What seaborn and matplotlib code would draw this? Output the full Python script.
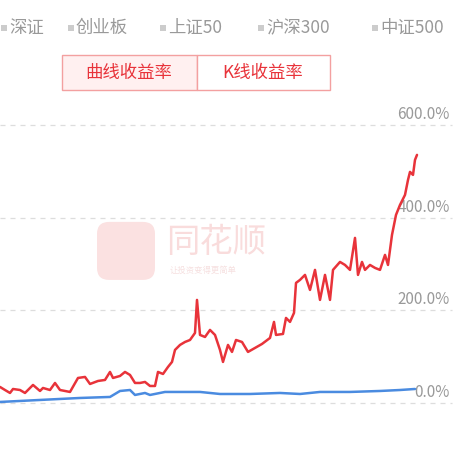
import matplotlib
matplotlib.use("Agg")
import matplotlib.pyplot as plt
import seaborn as sns
import pandas as pd
from matplotlib.patches import Rectangle, FancyBboxPatch

sns.set_style("white")
plt.rcParams['font.family'] = ['Noto Sans CJK SC', 'DejaVu Sans']

legend_names = ['深证', '创业板', '上证50', '沪深300', '中证500']
tab_names = ['曲线收益率', 'K线收益率']
y_ticks = [0, 200, 400, 600]

red_days = [0, 5, 10, 13, 20, 25, 33, 40, 43, 50, 55, 60, 65, 70, 78, 85, 90, 98, 105, 110,
            113, 120, 125, 130, 135, 140, 145, 150, 155, 158, 163, 168, 172, 175, 180, 185, 190,
            195, 197, 200, 205, 210, 215, 220, 223, 228, 232, 236, 242, 248, 255, 262, 270, 274,
            276, 283, 286, 290, 294, 296, 300, 305, 310, 315, 320, 325, 330, 333, 340, 345, 350,
            355, 358, 362, 365, 370, 375, 380, 385, 388, 392, 396, 400, 405, 408, 410, 413, 415, 417]
red_ret = [34.6, 28, 21.6, 30.2, 28, 21.6, 38.9, 25.9, 32.4, 28, 43.2, 28, 25.9, 23.8, 54, 56.2,
           41, 47.5, 49.7, 67, 54, 58.3, 67, 60.5, 43.2, 43.2, 45.4, 36.7, 36.7, 67, 62.6, 77.8,
           88.6, 114.5, 125.3, 131.7, 136, 151.2, 222.5, 146.9, 142.5, 157.7, 146.9, 114.5, 88.6,
           125.3, 110.2, 136, 131.7, 110.2, 118.8, 127.4, 140.4, 175, 146.9, 149, 183.6, 175,
           194.4, 259.2, 265.7, 276.5, 244, 287.3, 222.5, 276.5, 222.5, 287.3, 304.5, 298, 287.3,
           356.4, 276.5, 304.5, 287.3, 298, 291.6, 287.3, 319.7, 298, 362.9, 406, 427.6, 449.2,
           481.6, 498.9, 492.4, 524.8, 535.6]
blue_days = [0, 40, 80, 110, 120, 130, 135, 145, 150, 165, 200, 220, 250, 280, 300, 320, 350, 380, 400, 415]
blue_ret = [2.2, 6.5, 10.8, 13, 25.9, 28, 17.3, 21.6, 17.3, 23.8, 23.8, 19.4, 19.4, 21.6, 19.4,
            23.8, 23.8, 25.9, 28, 30.2]

fig = plt.figure(figsize=(4.63, 4.63), dpi=100)
ax = fig.add_axes([0, 0, 1, 1])
ax.set_xlim(0, 463)
ax.set_ylim(-129.6, 870)
ax.axis('off')

px = 1 / 0.463  # percent per pixel
for t in y_ticks:
    ax.plot([0, 452], [t, t], color='#dddddd', lw=0.9, ls=(0, (4, 4)), zorder=1)
    ax.text(450, t + 2 * px, f'{t:.1f}%', ha='right', va='bottom', fontsize=11, color='#999999', zorder=2)

# faint watermark
ax.add_patch(FancyBboxPatch((97, (403 - 280) * px), 58, 58 * px, boxstyle='round,pad=0,rounding_size=12',
                            fc='#fbe1e1', ec='none', zorder=0, mutation_aspect=px))
ax.text(166, (403 - 243) * px, '同花顺', fontsize=24, color='#f9dcdc', ha='left', va='center', style='italic', zorder=0)
ax.text(170, (403 - 270) * px, '让投资变得更简单', fontsize=6, color='#f6e0e0', ha='left', va='center', zorder=0)

sns.lineplot(data=pd.DataFrame({'d': blue_days, 'r': blue_ret}), x='d', y='r', ax=ax,
             color='#4a8be0', lw=1.8, zorder=3)
sns.lineplot(data=pd.DataFrame({'d': red_days, 'r': red_ret}), x='d', y='r', ax=ax,
             color='#e8333a', lw=1.8, zorder=4)

# legend row
leg_x = [1, 68, 160, 258, 372]
for x, name in zip(leg_x, legend_names):
    fig.patches.append(Rectangle((x / 463, 1 - 31 / 463), 6 / 463, 6 / 463, transform=fig.transFigure,
                                 fc='#cccccc', ec='none'))
    fig.text((x + 8) / 463, 1 - 28 / 463, name, fontsize=12.5, color='#999999', va='center', ha='left')

# tab buttons
fig.patches.append(Rectangle((62 / 463, 1 - 90 / 463), 135 / 463, 35 / 463, transform=fig.transFigure,
                             fc='#fff0f0', ec='#f3a0a0', lw=1))
fig.patches.append(Rectangle((197 / 463, 1 - 90 / 463), 133 / 463, 35 / 463, transform=fig.transFigure,
                             fc='white', ec='#f3a0a0', lw=1))
for cx, name in zip([129, 263], tab_names):
    fig.text(cx / 463, 1 - 73 / 463, name, fontsize=12.5, color='#e8333a', ha='center', va='center')

fig.savefig('out.png', dpi=100)
